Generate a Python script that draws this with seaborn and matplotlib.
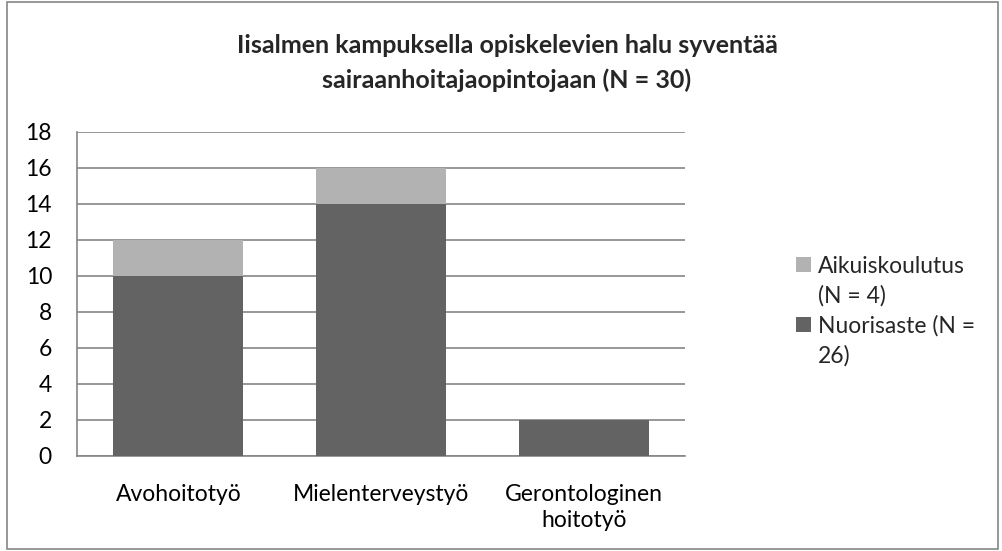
import matplotlib
matplotlib.use("Agg")
import matplotlib.pyplot as plt
import seaborn as sns
from matplotlib.patches import Rectangle

# Data
categories = ["Avohoitotyö", "Mielenterveystyö", "Gerontologinen\nhoitotyö"]
nuorisaste = [10, 14, 2]
aikuiskoulutus = [2, 2, 0]
totals = [n + a for n, a in zip(nuorisaste, aikuiskoulutus)]
legend_labels = ["Aikuiskoulutus\n(N = 4)", "Nuorisaste (N =\n26)"]
yticks = list(range(0, 19, 2))

light = "#b2b2b2"
dark = "#636363"
grid = "#868686"

sns.set_style("white")
plt.rcParams["font.family"] = ["Lato", "DejaVu Sans"]

W, H = 1003, 551
fig = plt.figure(figsize=(W / 100, H / 100), dpi=100)
ax = fig.add_axes([77 / W, 1 - 456 / H, 608 / W, 324 / H])

# Stacked bars: totals (light) underneath, youth (dark) on top
sns.barplot(x=categories, y=totals, color=light, saturation=1, width=0.64,
            linewidth=0, ax=ax, zorder=3)
sns.barplot(x=categories, y=nuorisaste, color=dark, saturation=1, width=0.64,
            linewidth=0, ax=ax, zorder=4)

ax.set_ylim(0, 18)
ax.set_yticks(yticks)
ax.set_xlim(-0.5, 2.5)
ax.yaxis.grid(True, color=grid, linewidth=1.2)
ax.set_axisbelow(True)
ax.tick_params(axis="y", length=0, pad=18, labelsize=16.5, colors="black")
ax.tick_params(axis="x", length=0, pad=20, labelsize=16.5, colors="black")
for lbl in ax.get_xticklabels():
    lbl.set_ha("center")
    lbl.set_multialignment("center")
    lbl.set_linespacing(1.3)
for s in ["top", "right"]:
    ax.spines[s].set_visible(False)
for s in ["left", "bottom"]:
    ax.spines[s].set_color(grid)
    ax.spines[s].set_linewidth(1.2)
ax.set_xlabel("")
ax.set_ylabel("")

# Title
fig.text(507 / W, 1 - 53 / H, "Iisalmen kampuksella opiskelevien halu syventää",
         ha="center", va="baseline", fontsize=18, fontweight="bold")
fig.text(507 / W, 1 - 88 / H, "sairaanhoitajaopintojaan (N = 30)",
         ha="center", va="baseline", fontsize=18, fontweight="bold")

# Legend (drawn manually so the swatch sits beside the first line)
for (ybase, col, lab) in [(273, light, legend_labels[0]), (333, dark, legend_labels[1])]:
    fig.patches.append(Rectangle((796 / W, 1 - (ybase - 1) / H), 15 / W, 15 / H,
                                 transform=fig.transFigure, facecolor=col, edgecolor="none"))
    first, second = lab.split("\n")
    fig.text(818 / W, 1 - ybase / H, first, ha="left", va="baseline", fontsize=16.5)
    fig.text(818 / W, 1 - (ybase + 30) / H, second, ha="left", va="baseline", fontsize=16.5)

# Outer chart frame
fig.patches.append(Rectangle((7 / W, 2 / H), 991 / W, 547 / H, transform=fig.transFigure,
                             facecolor="none", edgecolor=grid, linewidth=1.2))

fig.savefig("out.png", dpi=100)
